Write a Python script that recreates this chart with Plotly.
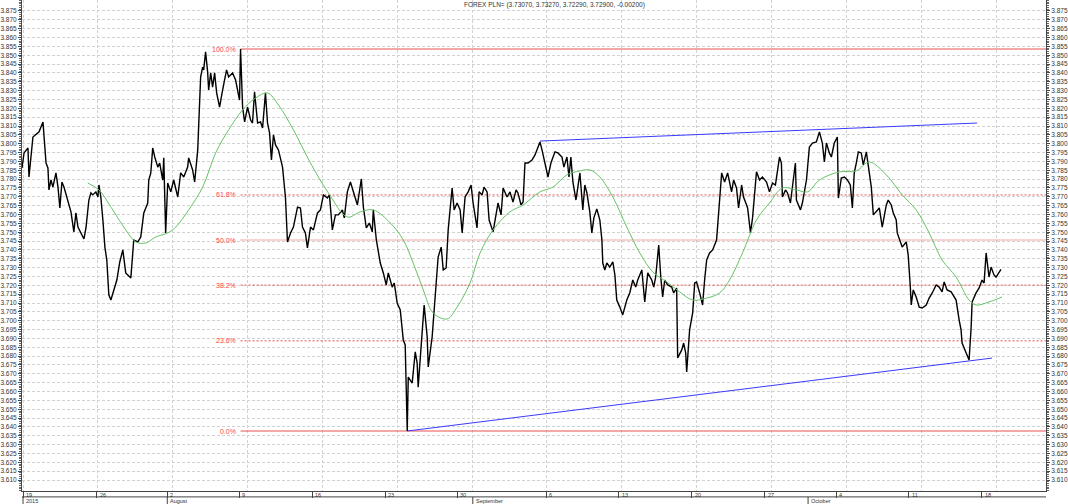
import plotly.graph_objects as go

# ---------------- data (x = trading days since Mon 20 Jul 2015) ----------------
day = [
    -0.07, 0.07, 0.34, 0.41, 0.68, 0.89, 1.10, 1.37, 1.44, 1.58,
    1.71, 1.78, 1.92, 2.05, 2.26, 2.40, 2.53, 2.67, 2.81, 3.08,
    3.29, 3.49, 3.63, 3.77, 3.97, 4.18, 4.32, 4.52, 4.66, 4.79,
    5.00, 5.14, 5.21, 5.34, 5.48, 5.62, 5.75, 5.89, 6.03, 6.23,
    6.44, 6.64, 6.85, 7.05, 7.40, 7.60, 7.88, 8.08, 8.29, 8.56,
    8.63, 8.77, 8.90, 9.04, 9.25, 9.38, 9.59, 9.66, 9.79, 9.93,
    10.14, 10.34, 10.62, 10.82, 11.03, 11.30, 11.37, 11.64, 11.78, 11.99,
    12.05, 12.19, 12.33, 12.40, 12.53, 12.67, 12.74, 12.88, 13.01, 13.15,
    13.29, 13.49, 13.70, 13.97, 14.11, 14.38, 14.59, 14.73, 14.86, 14.93,
    15.07, 15.21, 15.41, 15.62, 15.75, 15.89, 16.10, 16.30, 16.44, 16.64,
    16.78, 16.92, 17.05, 17.19, 17.33, 17.53, 17.81, 18.01, 18.15, 18.36,
    18.56, 18.84, 19.04, 19.18, 19.38, 19.52, 19.73, 19.93, 20.21, 20.41,
    20.62, 20.89, 21.03, 21.23, 21.44, 21.64, 21.92, 22.05, 22.26, 22.47,
    22.67, 22.95, 23.22, 23.36, 23.56, 23.77, 23.97, 24.04, 24.25, 24.38,
    24.52, 24.73, 24.93, 25.07, 25.34, 25.48, 25.68, 25.89, 26.10, 26.23,
    26.37, 26.44, 26.71, 26.92, 27.05, 27.12, 27.40, 27.53, 27.74, 27.81,
    28.08, 28.22, 28.42, 28.49, 28.70, 28.84, 29.04, 29.18, 29.45, 29.59,
    29.79, 30.00, 30.14, 30.34, 30.55, 30.75, 30.89, 31.16, 31.30, 31.51,
    31.64, 31.85, 31.99, 32.26, 32.40, 32.60, 32.81, 32.95, 33.22, 33.42,
    33.63, 33.84, 33.97, 34.18, 34.32, 34.45, 34.66, 34.93, 35.14, 35.34,
    35.48, 35.62, 35.82, 36.03, 36.23, 36.51, 36.71, 36.99, 37.12, 37.33,
    37.47, 37.60, 37.74, 37.95, 38.08, 38.22, 38.42, 38.56, 38.70, 38.90,
    39.04, 39.18, 39.38, 39.59, 39.73, 39.79, 39.93, 40.07, 40.27, 40.48,
    40.62, 40.75, 40.96, 41.16, 41.44, 41.64, 41.85, 42.05, 42.19, 42.47,
    42.67, 42.88, 43.15, 43.29, 43.42, 43.63, 43.77, 43.90, 44.04, 44.25,
    44.52, 44.66, 44.86, 44.93, 45.21, 45.34, 45.48, 45.55, 45.75, 45.96,
    46.10, 46.23, 46.44, 46.64, 46.78, 46.92, 47.12, 47.33, 47.60, 47.81,
    47.95, 48.15, 48.36, 48.63, 48.77, 48.97, 49.11, 49.32, 49.45, 49.66,
    49.73, 49.93, 50.07, 50.34, 50.55, 50.75, 51.03, 51.23, 51.44, 51.64,
    51.78, 51.92, 52.05, 52.12, 52.33, 52.47, 52.67, 52.81, 53.01, 53.08,
    53.36, 53.49, 53.77, 53.97, 54.18, 54.45, 54.66, 54.86, 55.00, 55.14,
    55.34, 55.48, 55.68, 55.89, 55.96, 56.16, 56.37, 56.58, 56.78, 56.92,
    57.05, 57.19, 57.33, 57.53, 57.67, 57.88, 58.01, 58.22, 58.36, 58.56,
    58.77, 58.97, 59.25, 59.38, 59.59, 59.73, 59.93, 60.00, 60.21, 60.34,
    60.62, 60.75, 60.89, 60.96, 61.10, 61.30, 61.51, 61.71, 61.99, 62.19,
    62.40, 62.67, 62.88, 63.08, 63.22, 63.42, 63.70, 63.84, 64.04, 64.25,
    64.38, 64.45, 64.66, 64.79, 64.93, 65.07, 65.14, 65.41, 65.62, 65.82,
    65.96, 66.10, 66.30, 66.44, 66.64, 66.78, 66.99, 67.12,
]

close = [
    3.7863, 3.7948, 3.7976, 3.7812, 3.8038, 3.8050, 3.8067, 3.8123, 3.8021, 3.7891,
    3.7863, 3.7739, 3.7795, 3.7755, 3.7835, 3.7755, 3.7637, 3.7784, 3.7755, 3.7682,
    3.7615, 3.7502, 3.7609, 3.7529, 3.7496, 3.7462, 3.7524, 3.7682, 3.7722, 3.7711,
    3.7728, 3.7699, 3.7767, 3.7699, 3.7569, 3.7416, 3.7343, 3.7146, 3.7117, 3.7174,
    3.7230, 3.7332, 3.7400, 3.7270, 3.7242, 3.7456, 3.7445, 3.7473, 3.7609, 3.7665,
    3.7795, 3.7835, 3.7976, 3.7925, 3.7868, 3.7891, 3.7795, 3.7920, 3.7496, 3.7778,
    3.7728, 3.7795, 3.7699, 3.7835, 3.7812, 3.7868, 3.7920, 3.7852, 3.7784, 3.7965,
    3.8117, 3.8377, 3.8433, 3.8417, 3.8519, 3.8406, 3.8304, 3.8400, 3.8320, 3.8400,
    3.8287, 3.8207, 3.8304, 3.8417, 3.8377, 3.8400, 3.8360, 3.8304, 3.8247, 3.8535,
    3.8207, 3.8123, 3.8207, 3.8134, 3.8117, 3.8293, 3.8117, 3.8123, 3.8089, 3.8287,
    3.8117, 3.8061, 3.7908, 3.8050, 3.7993, 3.7965, 3.7868, 3.7699, 3.7445, 3.7496,
    3.7529, 3.7642, 3.7637, 3.7529, 3.7496, 3.7411, 3.7529, 3.7513, 3.7609, 3.7626,
    3.7711, 3.7694, 3.7711, 3.7513, 3.7598, 3.7598, 3.7626, 3.7581, 3.7728, 3.7784,
    3.7728, 3.7654, 3.7801, 3.7642, 3.7524, 3.7552, 3.7502, 3.7626, 3.7456, 3.7383,
    3.7326, 3.7270, 3.7202, 3.7270, 3.7190, 3.7213, 3.7100, 3.7061, 3.6891, 3.6863,
    3.6377, 3.6682, 3.6648, 3.6824, 3.6761, 3.6625, 3.6987, 3.7089, 3.6908, 3.6739,
    3.6908, 3.7061, 3.7230, 3.7360, 3.7416, 3.7287, 3.7298, 3.7513, 3.7750, 3.7626,
    3.7665, 3.7626, 3.7496, 3.7699, 3.7728, 3.7767, 3.7665, 3.7524, 3.7728, 3.7711,
    3.7755, 3.7728, 3.7569, 3.7502, 3.7569, 3.7665, 3.7598, 3.7750, 3.7699, 3.7728,
    3.7671, 3.7739, 3.7722, 3.7654, 3.7671, 3.7891, 3.7891, 3.7908, 3.7937, 3.7976,
    3.8010, 3.7965, 3.7891, 3.7812, 3.7891, 3.7954, 3.7948, 3.7925, 3.7868, 3.7925,
    3.7812, 3.7925, 3.7784, 3.7682, 3.7755, 3.7835, 3.7626, 3.7767, 3.7722, 3.7615,
    3.7496, 3.7581, 3.7632, 3.7569, 3.7456, 3.7326, 3.7287, 3.7326, 3.7303, 3.7332,
    3.7259, 3.7117, 3.7077, 3.7033, 3.7117, 3.7157, 3.7230, 3.7190, 3.7230, 3.7287,
    3.7106, 3.7270, 3.7230, 3.7190, 3.7247, 3.7428, 3.7247, 3.7134, 3.7230, 3.7202,
    3.7190, 3.7157, 3.7185, 3.6790, 3.6835, 3.6874, 3.6818, 3.6711, 3.6948, 3.7044,
    3.7213, 3.7219, 3.7157, 3.7089, 3.7230, 3.7343, 3.7383, 3.7400, 3.7456, 3.7665,
    3.7835, 3.7784, 3.7835, 3.7728, 3.7795, 3.7750, 3.7637, 3.7767, 3.7699, 3.7654,
    3.7637, 3.7496, 3.7581, 3.7841, 3.7795, 3.7812, 3.7784, 3.7728, 3.7778, 3.7767,
    3.7835, 3.7925, 3.7891, 3.7699, 3.7739, 3.7722, 3.7665, 3.7755, 3.7891, 3.7682,
    3.7626, 3.7665, 3.7795, 3.7981, 3.8004, 3.8010, 3.8067, 3.8004, 3.7897, 3.8004,
    3.7948, 3.7925, 3.8004, 3.8038, 3.7693, 3.7806, 3.7812, 3.7795, 3.7767, 3.7637,
    3.7835, 3.7891, 3.7954, 3.7948, 3.7880, 3.7954, 3.7868, 3.7755, 3.7598, 3.7615,
    3.7637, 3.7529, 3.7654, 3.7682, 3.7654, 3.7609, 3.7569, 3.7496, 3.7445, 3.7416,
    3.7445, 3.7372, 3.7202, 3.7089, 3.7174, 3.7134, 3.7077, 3.7072, 3.7089, 3.7128,
    3.7157, 3.7202, 3.7190, 3.7163, 3.7219, 3.7174, 3.7163, 3.7146, 3.7117, 3.7004,
    3.6948, 3.6874, 3.6835, 3.6806, 3.6778, 3.6959, 3.7106, 3.7157, 3.7185, 3.7230,
    3.7213, 3.7383, 3.7247, 3.7303, 3.7259, 3.7247, 3.7270, 3.7290,
]

ma_day = [
    4.45, 5.21, 6.16, 7.05, 7.74, 8.42, 9.11, 9.93, 10.48, 11.37,
    12.33, 13.22, 14.11, 15.07, 15.96, 16.78, 17.53, 18.56, 19.73, 20.96,
    22.26, 23.15, 24.04, 25.21, 26.10, 26.78, 27.47, 28.15, 29.11, 29.79,
    30.68, 31.37, 32.26, 33.42, 34.32, 35.48, 36.37, 37.33, 38.22, 38.90,
    39.59, 40.48, 41.44, 42.33, 43.22, 44.18, 45.07, 45.96, 46.92, 47.81,
    48.49, 49.38, 50.34, 51.23, 52.12, 53.08, 53.84, 54.66, 56.03, 57.19,
    58.08, 59.25, 60.34, 61.30, 62.19, 63.08, 64.04, 64.93, 65.41, 66.30,
    67.19,
]
ma = [
    3.7778, 3.7739, 3.7626, 3.7513, 3.7445, 3.7439, 3.7473, 3.7496, 3.7529, 3.7626,
    3.7755, 3.7948, 3.8078, 3.8191, 3.8258, 3.8287, 3.8219, 3.8078, 3.7891, 3.7722,
    3.7586, 3.7615, 3.7626, 3.7552, 3.7456, 3.7326, 3.7174, 3.7044, 3.7010, 3.7077,
    3.7213, 3.7383, 3.7513, 3.7615, 3.7654, 3.7728, 3.7755, 3.7824, 3.7846, 3.7852,
    3.7812, 3.7699, 3.7529, 3.7383, 3.7276, 3.7219, 3.7163, 3.7117, 3.7128, 3.7157,
    3.7230, 3.7383, 3.7569, 3.7665, 3.7750, 3.7739, 3.7728, 3.7795, 3.7841, 3.7846,
    3.7897, 3.7824, 3.7711, 3.7626, 3.7496, 3.7343, 3.7247, 3.7117, 3.7089, 3.7106,
    3.7134,
]

upper_day = [35.48, 65.48]
upper_val = [3.8015, 3.8117]
lower_day = [26.37, 66.51]
lower_val = [3.6377, 3.6789]

fib_pct = [100.0, 61.8, 50.0, 38.2, 23.6, 0.0]
fib_high = 3.8535
fib_low = 3.6377
fib_start = 14.93

week_pos = [0, 5.05, 9.9, 14.85, 19.85, 24.85, 29.8, 35.9, 40.9, 45.9, 50.9, 55.8, 60.8, 65.8]
week_lbl = ["19", "26", "2", "9", "16", "23", "30", "6", "13", "20", "27", "4", "11", "18"]
month_pos = [0, 9.9, 30.87, 53.88]
month_lbl = ["2015", "August", "September", "October"]
y_ticks = [round(3.610 + 0.005 * i, 3) for i in range(54)]
title_txt = "FOREX PLN= (3.73070, 3.73270, 3.72290, 3.72900, -0.00200)"

# ---------------- styling ----------------
FONT = "Liberation Sans, Arial, sans-serif"
FIB_COL = "#e85050"
GRID = "#d2d2d2"
AX = "#444444"
x_lo, x_hi = -0.07, 70.21
y_lo, y_hi = 3.6038, 3.8812
fib_dash = {100.0: "solid", 61.8: "2px,2px", 50.0: "1px,1px", 38.2: "2px,2px", 23.6: "2px,2px", 0.0: "solid"}

fig = go.Figure()

for p in fib_pct:
    lvl = fib_low + p / 100.0 * (fib_high - fib_low)
    fig.add_trace(go.Scatter(x=[fib_start, x_hi], y=[lvl, lvl], mode="lines",
                             line=dict(color=FIB_COL, width=1, dash=fib_dash[p]),
                             hoverinfo="skip", showlegend=False))
    fig.add_annotation(x=fib_start, y=lvl, xref="x", yref="y", text=f"{p:.1f}%",
                       showarrow=False, xanchor="right", yanchor="middle", xshift=-3,
                       font=dict(family=FONT, size=7, color="#ff4444"))

for dx, vy in ((upper_day, upper_val), (lower_day, lower_val)):
    fig.add_trace(go.Scatter(x=dx, y=vy, mode="lines", line=dict(color="#3a3aff", width=1),
                             hoverinfo="skip", showlegend=False))

fig.add_trace(go.Scatter(x=ma_day, y=ma, mode="lines", yaxis="y2",
                         line=dict(color="#66c266", width=1, shape="spline", smoothing=1.0),
                         hoverinfo="skip", showlegend=False))

fig.add_trace(go.Scatter(x=day, y=close, mode="lines", line=dict(color="#000000", width=1.4),
                         hoverinfo="skip", showlegend=False))

# title
fig.add_annotation(x=0.52, y=1.0, xref="paper", yref="paper", text=title_txt, showarrow=False,
                   xanchor="center", yanchor="top", yshift=1, font=dict(family=FONT, size=6.5, color="#333"))

# date strip labels
for pos, lbl in zip(week_pos, week_lbl):
    fig.add_annotation(x=pos, y=-0.0075, xref="x", yref="paper", text=lbl, showarrow=False,
                       xanchor="left", yanchor="middle", xshift=1,
                       font=dict(family=FONT, size=5.5, color="#333"))
for pos, lbl in zip(month_pos, month_lbl):
    fig.add_annotation(x=pos, y=-0.0205, xref="x", yref="paper", text=lbl, showarrow=False,
                       xanchor="left", yanchor="middle", xshift=1,
                       font=dict(family=FONT, size=5.5, color="#333"))
    fig.add_shape(type="line", x0=pos, x1=pos, xref="x", y0=-0.012, y1=-0.028, yref="paper",
                  line=dict(color=AX, width=1))

fig.add_shape(type="line", x0=0, x1=1, xref="paper", y0=-0.012, y1=-0.012, yref="paper",
              line=dict(color=AX, width=1))

yaxis_common = dict(
    range=[y_lo, y_hi], tickmode="array", tickvals=y_ticks,
    ticktext=[f"{v:.3f}" for v in y_ticks],
    tickfont=dict(family=FONT, size=6.5, color="#333"),
    ticks="outside", ticklen=3, tickcolor=AX,
    showline=True, linecolor=AX, linewidth=1, zeroline=False,
    minor=dict(tickmode="linear", tick0=3.61, dtick=0.001, ticks="outside", ticklen=2,
               tickcolor="#666", showgrid=False),
)

fig.update_layout(
    width=1068, height=504,
    margin=dict(l=21, r=21, t=0, b=13),
    paper_bgcolor="white", plot_bgcolor="white",
    hovermode=False, showlegend=False,
    font=dict(family=FONT),
    xaxis=dict(range=[x_lo, x_hi], showgrid=False, zeroline=False, showline=True,
               linecolor=AX, linewidth=1, tickmode="array", tickvals=week_pos,
               showticklabels=False, ticks="outside", ticklen=6, tickcolor=AX,
               minor=dict(tickmode="linear", tick0=0, dtick=75 / 14.6, showgrid=True,
                          gridcolor=GRID, griddash="3px,2px", gridwidth=1, ticks="")),
    yaxis=dict(**yaxis_common, showgrid=True, gridcolor=GRID, griddash="3px,2px", side="left"),
    yaxis2=dict(**yaxis_common, showgrid=False, overlaying="y", side="right"),
)

fig.write_html("out.html")
